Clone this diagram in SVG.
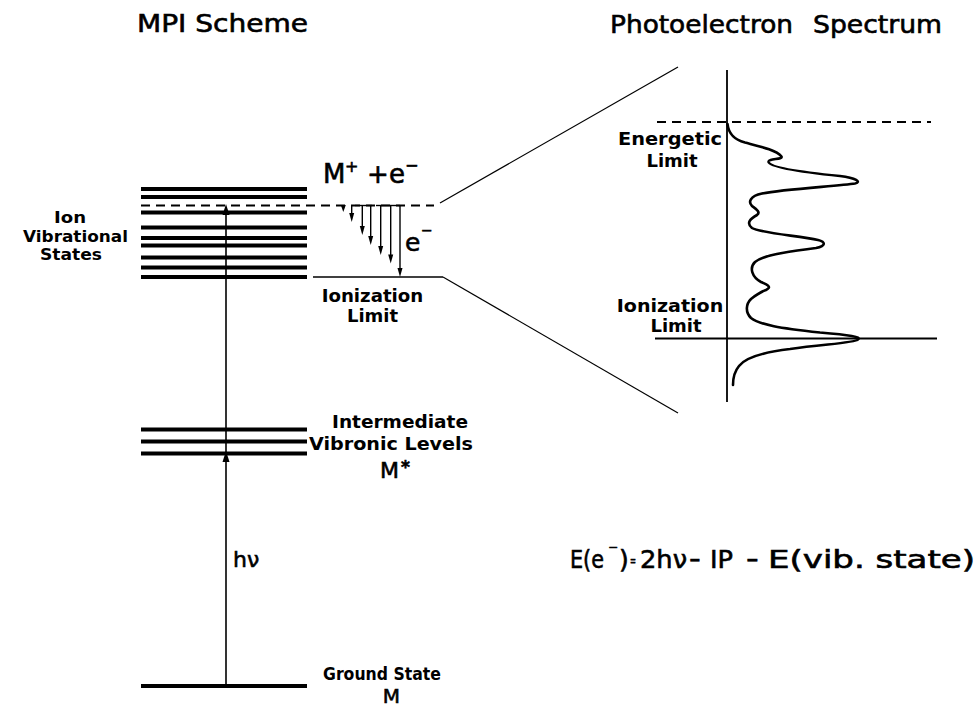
<svg xmlns="http://www.w3.org/2000/svg" width="980" height="709" viewBox="0 0 980 709">
<style>
text{font-family:"DejaVu Sans","Liberation Sans",sans-serif;fill:#000}
.t{font-size:24px;stroke:#000;stroke-width:0.6}
.r{stroke:#000;stroke-width:0.6}
.b{font-size:18px;font-weight:bold}
.s{font-size:16px;font-weight:bold}
.lvl{stroke:#000;stroke-width:4;fill:none}
.thin{stroke:#000;stroke-width:1.5;fill:none}
.dash{stroke:#000;stroke-width:1.8;stroke-dasharray:9 6;fill:none}
.ah{fill:#000}
</style>
<rect width="980" height="709" fill="#fff"/>

<g id="titles">
<text class="t" x="137" y="32" textLength="171" lengthAdjust="spacingAndGlyphs">MPI  Scheme</text>
<text class="t" x="610" y="33" textLength="183" lengthAdjust="spacingAndGlyphs">Photoelectron</text>
<text class="t" x="813" y="33" textLength="129" lengthAdjust="spacingAndGlyphs">Spectrum</text>
</g>

<g id="ion-levels">
<line class="lvl" x1="141" y1="189" x2="307" y2="189"/>
<line class="lvl" x1="141" y1="197" x2="307" y2="197"/>
<line class="lvl" x1="141" y1="212.5" x2="307" y2="212.5"/>
<line class="lvl" x1="141" y1="227.5" x2="307" y2="227.5"/>
<line class="lvl" x1="141" y1="238" x2="307" y2="238"/>
<line class="lvl" x1="141" y1="245.5" x2="307" y2="245.5"/>
<line class="lvl" x1="141" y1="257.5" x2="307" y2="257.5"/>
<line class="lvl" x1="141" y1="267.5" x2="307" y2="267.5"/>
<line class="lvl" x1="141" y1="277" x2="307" y2="277"/>
<line class="dash" x1="141" y1="205.5" x2="434" y2="205.5"/>
<text class="s" x="70" y="223" text-anchor="middle" textLength="32" lengthAdjust="spacingAndGlyphs">Ion</text>
<text class="s" x="75.5" y="242" text-anchor="middle" textLength="105" lengthAdjust="spacingAndGlyphs">Vibrational</text>
<text class="s" x="71" y="260" text-anchor="middle" textLength="62" lengthAdjust="spacingAndGlyphs">States</text>
</g>

<g id="ionization-limit">
<line class="thin" x1="313" y1="277" x2="443" y2="277"/>
<text class="b" x="321.7" y="302" textLength="101.6" lengthAdjust="spacingAndGlyphs">Ionization</text>
<text class="b" x="372.5" y="322" text-anchor="middle">Limit</text>
</g>

<g id="ion-label">
<text class="r" style="font-size:26px"><tspan x="323" y="183">M</tspan><tspan x="345" y="172" style="font-size:16px">+</tspan><tspan x="367" y="183">+</tspan><tspan x="389" y="183">e</tspan><tspan x="405" y="171" style="font-size:16px">−</tspan></text>
</g>

<g id="electron-label">
<text class="r" style="font-size:25px"><tspan x="405" y="251">e</tspan><tspan x="421" y="235" style="font-size:14px">−</tspan></text>
</g>

<g id="intermediate-levels">
<line class="lvl" x1="141" y1="429.5" x2="307" y2="429.5"/>
<line class="lvl" x1="141" y1="441.5" x2="307" y2="441.5"/>
<line class="lvl" x1="141" y1="453.5" x2="307" y2="453.5"/>
<text class="b" x="400" y="428" text-anchor="middle" textLength="136" lengthAdjust="spacingAndGlyphs">Intermediate</text>
<text class="b" x="391" y="450" text-anchor="middle" textLength="164" lengthAdjust="spacingAndGlyphs">Vibronic Levels</text>
<text class="r" style="font-size:22px"><tspan x="380" y="478">M</tspan><tspan x="401" y="473" style="font-size:17px;font-weight:bold">*</tspan></text>
</g>

<g id="ground-state">
<line class="lvl" x1="141" y1="686" x2="307" y2="686"/>
<text class="b" x="323" y="680" textLength="118" lengthAdjust="spacingAndGlyphs" style="font-size:17px">Ground State</text>
<text class="r" x="391.5" y="703" text-anchor="middle" style="font-size:20px">M</text>
</g>

<g id="spectrum">
<line stroke="#000" stroke-width="1.8" x1="727" y1="70" x2="727" y2="402"/>
<line class="dash" x1="657" y1="122" x2="931" y2="122"/>
<line stroke="#000" stroke-width="1.8" x1="655" y1="338.5" x2="937" y2="338.5"/>
<path fill="none" stroke="#000" stroke-width="2.6" stroke-linecap="round" stroke-linejoin="round" d="M727.5,124 C728.5,133 733,139 745,142.5 C760,146.5 776,150 781.5,156.5 C783,160 768,158 768.5,162 C770,167 795,171.5 840,176 C856,178 862,182 855,183.5 C840,186 785,189 762,193.5 C750,196 748,202 752,206 C756,209 761,212 757,215 C750,219 746,223 752,228 C760,233 800,236 818,240 C826,242 826,246 816,248 C795,251 765,254 755,262 C749,268 752,277 761,282 C768,285 772,287 766,290 C760,292 756,295 751,299 C746,304 745,312 751,318 C760,325 780,328 820,332.5 C850,335 862,337 858,339.5 C855,343 825,344 790,349 C765,352 745,358 739,366 C734,372 733,378 733,385"/>
<text class="b" x="670" y="145" text-anchor="middle" textLength="104" lengthAdjust="spacingAndGlyphs">Energetic</text>
<text class="b" x="672" y="166.5" text-anchor="middle">Limit</text>
<text class="b" x="670" y="311.5" text-anchor="middle" textLength="106.6" lengthAdjust="spacingAndGlyphs">Ionization</text>
<text class="b" x="676" y="331.5" text-anchor="middle">Limit</text>
</g>

<g id="equation" style="font-size:25px">
<text class="r" x="570" y="568" textLength="34" lengthAdjust="spacingAndGlyphs">E(e</text>
<text class="r" x="608" y="551" style="font-size:12px">−</text>
<text class="r" x="619" y="568">)</text>
<text class="r" x="630" y="565" style="font-size:13px" textLength="6" lengthAdjust="spacingAndGlyphs">=</text>
<text class="r" x="640" y="568" textLength="47" lengthAdjust="spacingAndGlyphs">2hν</text>
<text class="r" x="689" y="568" textLength="12" lengthAdjust="spacingAndGlyphs">−</text>
<text class="r" x="710" y="568" textLength="23" lengthAdjust="spacingAndGlyphs">IP</text>
<text class="r" x="746" y="568" textLength="13" lengthAdjust="spacingAndGlyphs">−</text>
<text class="r" x="768" y="568" textLength="207" lengthAdjust="spacingAndGlyphs">E(vib. state)</text>
</g>

<g id="connectors">
<line stroke="#000" stroke-width="1.2" x1="440" y1="203" x2="678" y2="67"/>
<line stroke="#000" stroke-width="1.2" x1="443" y1="277" x2="678" y2="413"/>
<line stroke="#000" stroke-width="1.6" x1="226" y1="686" x2="226" y2="207"/>
<polygon class="ah" points="226,451 222.5,462 229.5,462"/>
<polygon class="ah" points="226,204 222.5,215 229.5,215"/>
<text class="r" x="233" y="567" style="font-size:22px">hν</text>
<g stroke="#000" stroke-width="1.4">
<line x1="355" y1="205.5" x2="372" y2="205.5"/>
<line x1="376" y1="205.5" x2="400" y2="205.5"/>
<line x1="351.7" y1="205.5" x2="351.7" y2="214"/>
<line x1="362.3" y1="205.5" x2="362.3" y2="227"/>
<line x1="370.7" y1="205.5" x2="370.7" y2="237"/>
<line x1="380.7" y1="205.5" x2="380.7" y2="247"/>
<line x1="390.7" y1="205.5" x2="390.7" y2="255"/>
<line x1="400" y1="205.5" x2="400" y2="269"/>
</g>
<polygon class="ah" points="343.3,212 340.8,205 345.8,205"/>
<polygon class="ah" points="351.7,222 349.2,213 354.2,213"/>
<polygon class="ah" points="362.3,235 359.8,226 364.8,226"/>
<polygon class="ah" points="370.7,245 368.2,236 373.2,236"/>
<polygon class="ah" points="380.7,255 378.2,246 383.2,246"/>
<polygon class="ah" points="390.7,263.5 388.2,254.5 393.2,254.5"/>
<polygon class="ah" points="400,277 397.5,268 402.5,268"/>
</g>
</svg>
